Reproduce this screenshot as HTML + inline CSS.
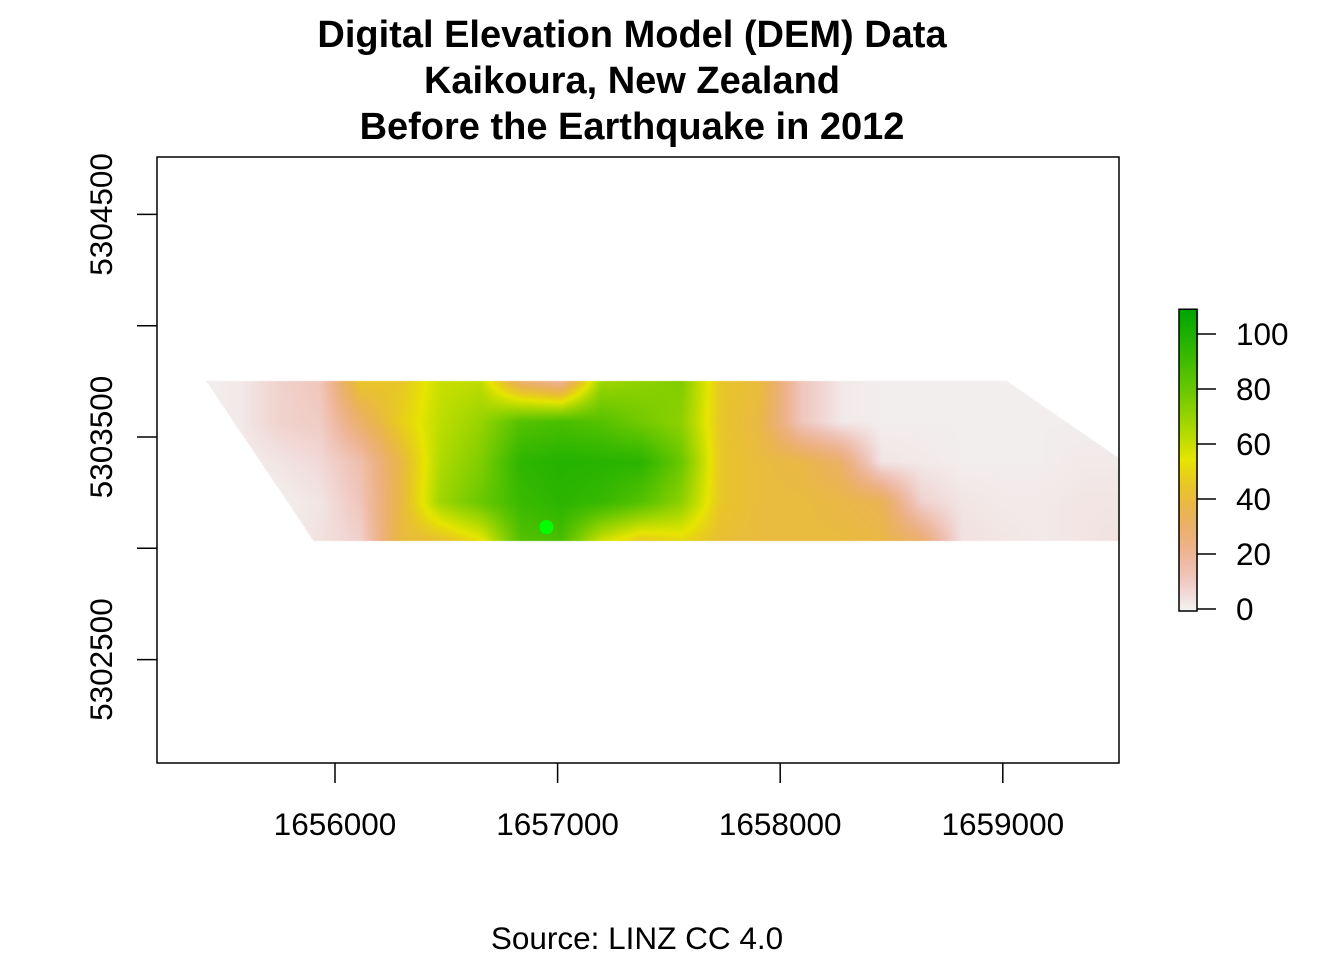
<!DOCTYPE html>
<html><head><meta charset="utf-8">
<style>
body{margin:0;background:#fff;}
#wrap{position:relative;width:1344px;height:960px;font-family:"Liberation Sans",Arial,sans-serif;}
canvas{position:absolute;left:0;top:0;}
svg{position:absolute;left:0;top:0;}
</style></head>
<body>
<div id="wrap">
<canvas id="c" width="1344" height="960"></canvas>
<svg id="s" width="1344" height="960"></svg>
</div>
<script>
// ---- data ----
const gridX = [1655393,1655573,1655753,1655933,1656113,1656293,1656473,1656653,1656833,1657013,1657193,1657373,1657553,1657733,1657913,1658093,1658273,1658453,1658633,1658813,1658993,1659173,1659353,1659533];
const gridY = [5303750,5303570,5303390,5303210,5303030];
const elev0 = [1,2,8,12,45,45,60,62,30,20,68,72,75,45,40,12,2,1,1,1,1,1,1,1];
const elev1 = [1,2,8,10,30,48,62,70,85,88,85,78,72,45,38,12,2,1,1,1,1,1,1,1];
const elev2 = [1,1,3,6,15,38,65,75,95,98,97,96,80,45,40,38,30,3,2,1,1,1,2,2];
const elev3 = [1,1,1,3,12,38,68,80,92,96,93,85,72,45,40,40,38,35,8,3,2,2,3,3];
const elev4 = [1,1,1,4,8,40,42,52,85,88,58,45,50,42,40,40,40,38,30,4,3,2,3,4];
const xTicks = [1656000,1657000,1658000,1659000];
const yTicks = [5302500,5303000,5303500,5304000,5304500];
const yLabels = [5302500,5303500,5304500];
const legendTicks = [0,20,40,60,80,100];
const pointX = [1656950];
const pointY = [5303095];
const titleLines = ["Digital Elevation Model (DEM) Data","Kaikoura, New Zealand","Before the Earthquake in 2012"];
// ---- scales ----
const X0=157,X1=1119,Y0=157,Y1=763;
const sx = v => 335 + (v-1656000)*0.2226;
const sy = v => 437 - (v-5303500)*0.2226;
const VMAX=109;
const ly = v => 609 - v*2.75;
function col(v){
  let t=Math.max(0,Math.min(1,v/VMAX)),h,s,b;
  if(t>=0.5){let u=(t-0.5)/0.5;h=(2/12+u*2/12)*360;s=1;b=0.9-u*0.25;}
  else{let u=t/0.5;h=u*2/12*360;s=u;b=0.95-u*0.05;}
  let c=b*s,x=c*(1-Math.abs((h/60)%2-1)),m=b-c,r,g,bl;
  if(h<60){r=c;g=x;bl=0}else if(h<120){r=x;g=c;bl=0}else{r=0;g=c;bl=x}
  return [Math.round((r+m)*255),Math.round((g+m)*255),Math.round((bl+m)*255)];
}
const rows=[elev0,elev1,elev2,elev3,elev4];
const ctx=document.getElementById('c').getContext('2d');
const img=ctx.createImageData(1344,960);
const gx=gridX.map(sx), gy=gridY.map(sy);
const rTop=381,rBot=540;
function inside(x,y){
  if(y<rTop||y>rBot||x>1119)return false;
  const lx=206+(y-rTop)/(rBot-rTop)*(313-206);
  if(x<lx)return false;
  if(y<458){const rx=1007+(y-rTop)/(458-rTop)*(1119-1007); if(x>rx)return false;}
  return true;
}
function interp(x,y){
  let fx=(x-gx[0])/(gx[1]-gx[0]); fx=Math.max(0,Math.min(gx.length-1.001,fx));
  let fy=(y-gy[0])/(gy[1]-gy[0]); fy=Math.max(0,Math.min(gy.length-1.001,fy));
  const i=Math.floor(fx),j=Math.floor(fy),a=fx-i,b=fy-j;
  return rows[j][i]*(1-a)*(1-b)+rows[j][i+1]*a*(1-b)+rows[j+1][i]*(1-a)*b+rows[j+1][i+1]*a*b;
}
for(let y=rTop;y<=rBot;y++)for(let x=200;x<=1119;x++){
  if(!inside(x,y))continue;
  const c=col(interp(x,y));const k=(y*1344+x)*4;
  img.data[k]=c[0];img.data[k+1]=c[1];img.data[k+2]=c[2];img.data[k+3]=255;
}
for(let y=Math.round(ly(VMAX));y<=611;y++)for(let x=1179;x<=1197;x++){
  const c=col((609-y)/2.75);const k=(y*1344+x)*4;
  img.data[k]=c[0];img.data[k+1]=c[1];img.data[k+2]=c[2];img.data[k+3]=255;
}
ctx.putImageData(img,0,0);
// ---- svg ----
const S=document.getElementById('s'),NS='http://www.w3.org/2000/svg';
function el(t,a,txt){const e=document.createElementNS(NS,t);for(const k in a)e.setAttribute(k,a[k]);if(txt!=null)e.textContent=txt;S.appendChild(e);return e;}
let e;
e=el('rect',{x:X0,y:Y0,width:X1-X0,height:Y1-Y0,fill:'none',stroke:'#000','stroke-width':1.5});


pointX.forEach((px,i)=>{
  const c=el('circle',{cx:sx(px),cy:sy(pointY[i]),r:7,fill:'#00ff00'});
  
  
});
xTicks.forEach(v=>{
  const l=el('line',{x1:sx(v),x2:sx(v),y1:Y1,y2:Y1+20,stroke:'#000','stroke-width':1.5});
  
  
  const t=el('text',{x:sx(v),y:835,'text-anchor':'middle','font-size':31.5},String(v));
  
  
});
yTicks.forEach(v=>{
  const l=el('line',{x1:X0-20,x2:X0,y1:sy(v),y2:sy(v),stroke:'#000','stroke-width':1.5});
  
  
});
yLabels.forEach(v=>{
  const t=el('text',{x:0,y:0,'text-anchor':'middle','font-size':31.5,transform:`translate(112,${sy(v)}) rotate(-90)`},String(v));
  
  
});
titleLines.forEach((s,i)=>{
  const t=el('text',{x:632,y:47+i*46,'text-anchor':'middle','font-size':38,'font-weight':'bold'},s);
  
  
});
e=el('text',{x:637,y:949,'text-anchor':'middle','font-size':31.5},'Source: LINZ CC 4.0');


e=el('rect',{x:1179,y:ly(VMAX),width:18,height:611-ly(VMAX),fill:'none',stroke:'#000','stroke-width':1.5});


legendTicks.forEach(v=>{
  const l=el('line',{x1:1197,x2:1216,y1:ly(v),y2:ly(v),stroke:'#000','stroke-width':1.5});
  
  
  const t=el('text',{x:1236,y:ly(v)+11,'font-size':31.5},String(v));
  
  
});
</script>
</body></html>
